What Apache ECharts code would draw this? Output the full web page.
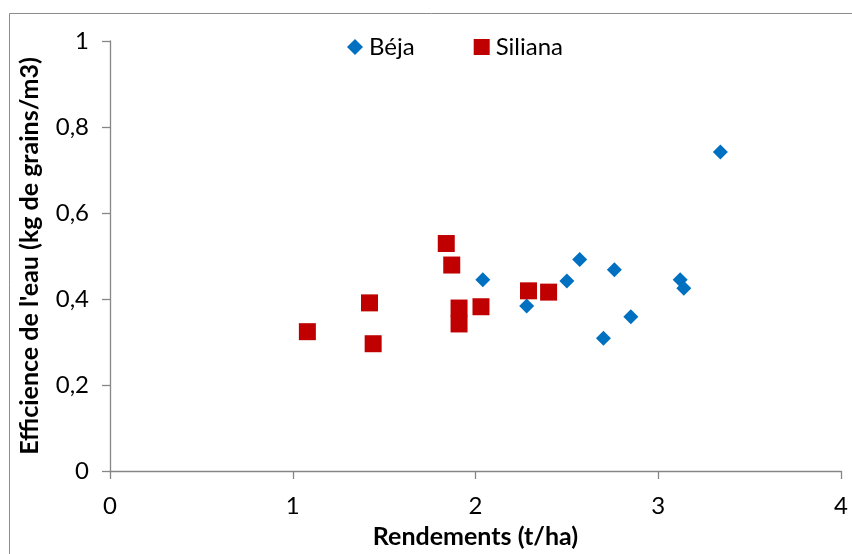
<!DOCTYPE html>
<html>
<head>
<meta charset="utf-8">
<script src="https://cdn.jsdelivr.net/npm/echarts@6/dist/echarts.min.js"></script>
<style>
html,body{margin:0;padding:0;background:#fff;}
#chart{width:852px;height:554px;}
</style>
</head>
<body>
<div id="chart"></div>
<script>
const seriesNames = ['Béja', 'Siliana'];
const bejaX = [2.04, 2.28, 2.50, 2.57, 2.76, 2.70, 2.85, 3.12, 3.14, 3.34];
const bejaY = [0.445, 0.384, 0.442, 0.492, 0.468, 0.309, 0.359, 0.445, 0.425, 0.742];
const silianaX = [1.08, 1.42, 1.44, 1.84, 1.87, 1.91, 1.91, 2.03, 2.29, 2.40];
const silianaY = [0.324, 0.391, 0.296, 0.529, 0.479, 0.379, 0.342, 0.382, 0.419, 0.416];
const xTicks = [0, 1, 2, 3, 4];
const yTicks = [0, 0.2, 0.4, 0.6, 0.8, 1];
const xTitle = 'Rendements (t/ha)';
const yTitle = "Efficience de l'eau (kg de grains/m3)";

const FONT = 'Lato';
const axisGray = '#868686';

const chart = echarts.init(document.getElementById('chart'));
chart.setOption({
  backgroundColor: '#fff',
  animation: false,
  textStyle: { fontFamily: FONT },
  graphic: [{
    type: 'rect',
    shape: { x: 9.5, y: 13.5, width: 900, height: 600 },
    style: { fill: 'none', stroke: '#8c8c8c', lineWidth: 1 },
    silent: true
  }],
  legend: {
    left: 342,
    top: 30,
    itemWidth: 16,
    itemHeight: 16,
    itemGap: 59,
    textStyle: { fontFamily: FONT, fontSize: 24, color: '#000', padding: [0, 0, 0, 1] },
    data: [
      { name: seriesNames[0], icon: 'diamond' },
      { name: seriesNames[1], icon: 'rect' }
    ]
  },
  grid: { left: 110, right: 11, top: 41, bottom: 78, containLabel: false },
  xAxis: {
    type: 'value',
    min: xTicks[0],
    max: xTicks[xTicks.length - 1],
    interval: 1,
    name: xTitle,
    nameLocation: 'middle',
    nameGap: 53,
    nameTextStyle: { fontFamily: FONT, fontSize: 25, fontWeight: 'bold', color: '#000' },
    axisLine: { show: true, lineStyle: { color: axisGray, width: 1.3 } },
    axisTick: { show: true, length: 8, lineStyle: { color: axisGray, width: 1.3 } },
    axisLabel: { fontFamily: FONT, fontSize: 24, color: '#000', margin: 23 },
    splitLine: { show: false }
  },
  yAxis: {
    type: 'value',
    min: yTicks[0],
    max: yTicks[yTicks.length - 1],
    interval: 0.2,
    name: yTitle,
    nameLocation: 'middle',
    nameGap: 68,
    nameRotate: 90,
    nameTextStyle: { fontFamily: FONT, fontSize: 25, fontWeight: 'bold', color: '#000' },
    axisLine: { show: true, lineStyle: { color: axisGray, width: 1.3 } },
    axisTick: { show: true, length: 8, lineStyle: { color: axisGray, width: 1.3 } },
    axisLabel: {
      fontFamily: FONT, fontSize: 24, color: '#000', margin: 21,
      formatter: v => String(Math.round(v * 10) / 10).replace('.', ',')
    },
    splitLine: { show: false }
  },
  series: [
    {
      name: seriesNames[0],
      type: 'scatter',
      symbol: 'diamond',
      symbolSize: 15,
      itemStyle: { color: '#0070C0', opacity: 1 },
      data: bejaX.map((x, i) => [x, bejaY[i]])
    },
    {
      name: seriesNames[1],
      type: 'scatter',
      symbol: 'rect',
      symbolSize: 17,
      itemStyle: { color: '#C00000', opacity: 1 },
      data: silianaX.map((x, i) => [x, silianaY[i]])
    }
  ]
});
</script>
</body>
</html>
